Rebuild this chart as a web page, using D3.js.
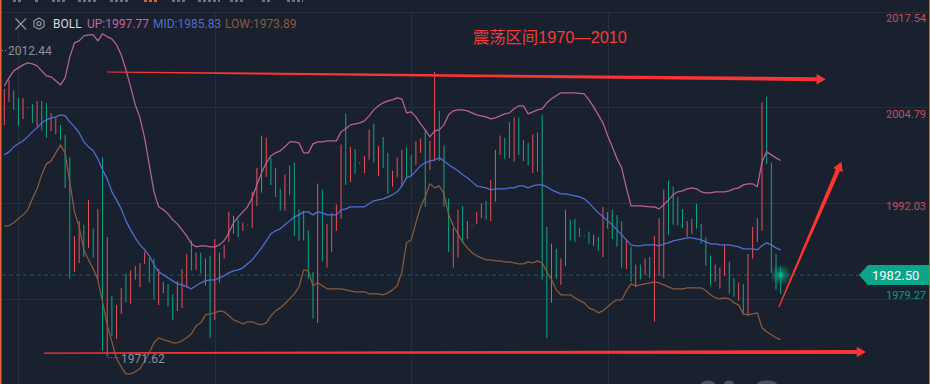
<!DOCTYPE html>
<html><head><meta charset="utf-8">
<script src="https://cdn.jsdelivr.net/npm/d3@7"></script>
<style>html,body{margin:0;padding:0;background:#1a212e;overflow:hidden}svg{display:block}</style>
</head><body><div id="chart"></div>
<script>
const barHighs = [2007.3,2008.5,2007.1,2006.1,2006.1,2004.9,2005.3,2005.7,2005.7,2005.4,
2004.1,2003.6,2002.5,2001.2,1998.2,1987.7,1989.7,1989.2,1992.5,1988.7,
1991.3,1998.2,1987.6,1979.7,1978.5,1980.8,1982.7,1983.1,1983.7,1984.1,
1985.6,1984.8,1984.7,1983.3,1981.6,1981.3,1979.9,1981.7,1983.3,1985.3,
1987.1,1985.5,1985.5,1984.7,1985.1,1987.3,1985.5,1986.5,1990.9,1990.4,
1989.9,1989.5,1989.2,1993.6,1996.8,2001.1,2000.8,1998.1,1996.8,1994.0,
1995.9,1997.1,1997.5,1991.2,1991.1,1988.5,1982.9,1994.7,1993.9,1989.3,
1990.8,1991.9,1999.9,2004.0,1999.6,1999.3,1997.5,1998.4,2001.9,2002.7,
1999.7,2000.9,1998.8,1996.4,1998.2,1999.2,1999.5,1998.5,2000.4,2000.7,
2001.9,2000.4,2009.6,2004.4,1999.7,1992.7,1988.8,1991.2,1991.7,1989.7,
1989.2,1990.9,1992.1,1992.4,1995.2,1999.2,2001.1,2000.8,2002.9,2003.5,
2003.5,2000.5,2000.1,2001.3,2001.5,2003.9,1988.9,1986.7,1986.0,1984.7,
1991.2,1989.9,1990.0,1988.8,1987.7,1988.3,1987.9,1987.6,1991.6,1990.9,
1991.2,1990.5,1989.7,1987.2,1986.3,1983.9,1983.9,1984.7,1984.9,1987.7,
1990.1,1993.9,1995.1,1994.3,1992.9,1991.3,1989.7,1990.0,1992.0,1989.3,
1987.6,1985.1,1983.9,1983.5,1986.5,1984.3,1982.1,1981.5,1981.3,1985.3,
1988.9,1990.1,2005.5,2006.3,1997.5,1985.3,1983.5];
const barLows = [2002.5,2005.6,2004.5,2002.4,2003.3,2004.8,2002.8,2002.3,2001.8,2000.8,
2001.7,2001.3,2000.5,1994.1,1982.0,1982.9,1984.1,1984.9,1986.1,1984.8,
1982.0,1972.4,1971.6,1974.4,1974.0,1977.3,1978.9,1978.7,1981.9,1980.9,
1984.0,1981.5,1979.2,1978.5,1980.1,1978.3,1976.5,1977.7,1978.1,1980.9,
1983.1,1983.2,1982.7,1981.1,1974.1,1976.5,1981.5,1984.7,1986.9,1988.0,
1987.6,1988.4,1989.1,1988.8,1991.7,1993.5,1995.6,1994.5,1992.9,1991.1,
1991.1,1993.2,1987.7,1987.1,1987.1,1982.0,1976.7,1976.1,1984.3,1983.5,
1985.6,1988.4,1990.0,1994.5,1994.9,1996.0,1997.3,1996.1,1997.9,1997.5,
1995.7,1996.8,1993.3,1994.3,1995.5,1994.3,1995.5,1995.7,1997.2,1998.8,
1991.6,1996.5,1997.7,1997.7,1991.6,1985.6,1983.5,1984.8,1986.8,1987.3,
1989.1,1989.3,1990.1,1989.9,1989.7,1992.3,1998.5,1998.0,1998.1,1997.6,
1998.5,1997.7,1997.1,1996.1,1996.3,1981.9,1974.1,1978.8,1982.0,1981.2,
1983.7,1987.1,1986.9,1987.6,1987.6,1986.7,1986.4,1985.7,1984.9,1988.7,
1987.3,1986.3,1983.5,1983.3,1981.6,1980.9,1981.9,1982.5,1982.1,1976.3,
1982.4,1982.1,1987.9,1989.2,1989.1,1988.8,1987.6,1988.0,1988.7,1986.7,
1983.7,1981.1,1981.6,1980.7,1982.5,1980.0,1979.6,1979.1,1977.2,1977.1,
1984.7,1986.9,1988.4,1997.3,1982.8,1980.5,1980.0];
const barDirections = ("rrttrttrtt"+"rrtttrrtrt"+"rtrtrrtrrr"+"rttrrttrrr"+"trtrtrrrrr"+"trrrrrrttt"+"rttttttrtr"+"rrrtrttrrt"+"rttrrrttrr"+"trrtttrrtr"+"rrrtrrrttr"+"tttrtttrtr"+"rtttttrtrr"+"tttrtrtrtr"+"rrttttrrtt"+"ttrrrttrtr"+"rrrtttt").split("");
const upperBand = [2007.73,2008.8,2009.73,2010.13,2010.53,2010.8,2010.67,2010.4,2009.73,2009.07,
2008.93,2008.4,2007.87,2008.8,2011.6,2013.47,2013.73,2014.4,2014.53,2014.53,
2013.73,2014.67,2014.27,2014.0,2013.2,2011.87,2009.87,2007.6,2005.2,2003.47,
2000.8,1997.2,1993.6,1991.6,1991.2,1990.67,1989.87,1989.33,1988.53,1987.73,
1986.67,1986.27,1986.4,1986.4,1986.27,1986.27,1986.53,1987.07,1988.13,1989.47,
1990.27,1990.93,1991.6,1992.8,1994.53,1996.13,1997.47,1998.4,1998.8,1999.07,
1999.6,2000.27,2000.27,2000.13,1998.8,1998.8,2000.0,2000.27,2000.27,2000.4,
2000.4,2000.4,2001.6,2002.0,2002.53,2002.67,2002.8,2003.07,2003.73,2004.53,
2005.07,2005.47,2005.73,2005.87,2006.13,2006.0,2004.13,2004.27,2003.6,2002.67,
2001.87,2000.93,2001.73,2001.87,2002.53,2003.87,2004.4,2004.53,2004.53,2004.4,
2004.13,2003.87,2003.73,2003.6,2003.33,2003.47,2003.73,2004.0,2004.13,2004.67,
2005.07,2005.07,2004.0,2004.27,2004.53,2004.67,2005.47,2006.0,2006.4,2006.8,
2006.8,2006.8,2006.8,2006.73,2006.67,2005.87,2004.93,2003.87,2002.8,2001.07,
1999.6,1998.0,1996.8,1994.13,1991.73,1991.73,1991.73,1991.67,1991.6,1991.6,
1991.33,1991.87,1992.53,1993.2,1993.6,1993.73,1994.0,1994.13,1994.0,1993.6,
1993.47,1993.47,1993.6,1993.6,1993.6,1993.73,1994.0,1994.13,1994.53,1994.67,
1994.67,1994.27,1997.6,1998.93,1998.53,1998.13,1997.77];
const midBand = [1998.53,1998.93,1999.6,2000.0,2000.4,2000.93,2001.6,2002.13,2002.8,2003.2,
2003.47,2003.6,2003.87,2003.73,2002.93,2002.27,2001.47,2000.27,1999.6,1999.07,
1998.0,1996.53,1995.33,1993.6,1992.53,1991.33,1989.73,1988.53,1987.47,1986.53,
1985.87,1985.07,1983.87,1982.93,1982.53,1982.13,1981.73,1981.33,1981.2,1980.93,
1980.67,1981.07,1981.47,1981.73,1981.87,1981.87,1982.13,1982.4,1982.8,1983.07,
1983.2,1983.47,1984.0,1984.53,1985.33,1986.13,1987.07,1988.0,1988.4,1988.67,
1989.2,1989.73,1990.27,1990.53,1990.93,1990.93,1990.53,1990.93,1990.8,1990.53,
1990.53,1990.53,1991.2,1991.33,1991.6,1991.6,1991.6,1991.6,1992.0,1992.4,
1992.53,1992.67,1992.93,1993.2,1993.6,1994.4,1995.47,1995.73,1996.4,1997.07,
1997.47,1997.73,1997.87,1998.13,1997.73,1997.2,1996.8,1996.4,1995.87,1995.47,
1994.93,1994.4,1994.27,1994.13,1993.87,1994.0,1994.0,1994.0,1994.13,1994.13,
1994.4,1994.4,1994.13,1994.4,1994.53,1994.53,1994.27,1993.87,1993.6,1993.33,
1993.33,1993.2,1993.07,1992.93,1992.67,1992.13,1991.47,1990.8,1990.27,1989.73,
1989.2,1988.53,1987.87,1987.2,1986.53,1986.4,1986.4,1986.53,1986.53,1986.53,
1986.4,1986.67,1986.8,1987.07,1987.2,1987.33,1987.47,1987.47,1987.33,1987.2,
1986.93,1986.67,1986.67,1986.53,1986.53,1986.53,1986.4,1986.27,1986.0,1986.0,
1986.0,1985.87,1986.4,1986.8,1986.53,1986.13,1985.83];
const lowerBand = [1989.07,1989.07,1989.47,1990.0,1990.53,1991.2,1992.67,1994.0,1995.87,1997.33,
1997.73,1998.8,1999.87,1998.8,1994.93,1990.93,1988.93,1985.87,1984.53,1983.33,
1981.87,1978.93,1975.87,1973.6,1971.33,1970.27,1969.33,1969.33,1969.6,1970.0,
1971.07,1972.13,1973.47,1974.13,1973.87,1973.73,1973.47,1973.47,1973.73,1974.13,
1974.67,1975.73,1976.13,1977.2,1977.33,1977.47,1977.73,1977.6,1977.07,1976.53,
1976.27,1976.0,1976.27,1976.27,1976.0,1975.87,1976.13,1977.07,1977.73,1978.13,
1978.67,1979.33,1980.0,1980.93,1983.2,1983.07,1981.07,1981.47,1981.07,1980.67,
1980.67,1980.67,1980.67,1980.53,1980.4,1980.27,1980.27,1980.27,1980.0,1980.0,
1980.0,1979.87,1980.13,1980.53,1981.07,1982.93,1986.8,1987.2,1989.47,1991.6,
1992.93,1994.67,1994.13,1994.4,1993.33,1990.53,1989.07,1988.0,1986.93,1986.13,
1985.47,1985.07,1984.8,1984.53,1984.53,1984.4,1984.4,1984.27,1984.27,1984.13,
1984.0,1984.0,1984.27,1984.13,1984.4,1984.13,1982.93,1981.87,1980.53,1979.87,
1979.87,1979.87,1979.47,1979.07,1978.8,1978.13,1977.87,1977.47,1977.73,1978.27,
1978.8,1979.2,1979.2,1980.4,1981.33,1981.07,1981.2,1981.33,1981.47,1981.6,
1981.47,1981.2,1980.93,1980.67,1980.67,1980.67,1980.8,1980.8,1980.8,1980.8,
1980.4,1979.87,1979.47,1979.33,1979.47,1979.33,1978.8,1978.53,1977.33,1977.2,
1977.33,1977.47,1975.47,1974.93,1974.53,1974.13,1973.89];
const priceTicks = [2017.54,2004.79,1992.03,1979.27];
const tickLabelShift = [5,6,2,-5];
const tickLabelColors = ["#c24e5a","#c24e5a","#c24e5a","#0f9a82"];
const gridBarIndexes = [3,45,87,129];
const lastPrice = 1982.50, periodHigh = 2012.44, periodLow = 1971.62;
const legendItems = [["BOLL","#d3d6db",53],["UP:1997.77","#c262a8",87],["MID:1985.83","#4f6bcf",153],["LOW:1973.89","#8d5a39",225]];
const title = "震荡区间1970—2010";
// hand-drawn arrows: [fromBar, fromPrice, toBar, toPrice, startWidth, endWidth]
const arrows = [[21.95,2009.58,175.6,2008.6,1.2,4],[8.5,1972.1,184.2,1972.25,1.2,4],[165.6,1978.25,179,1997.6,1.2,4.4]];

const W=930,H=384,RED="#e9505a",TEAL="#0aa98c",ARROW="#fb3434";
const x=d3.scaleLinear().domain([0,166]).range([4.33,780.7]);
const y=d3.scaleLinear().domain([2017.54,1979.27]).range([12.3,299.3]);
const svg=d3.select("#chart").append("svg").attr("width",W).attr("height",H).attr("viewBox",`0 0 ${W} ${H}`);
svg.append("rect").attr("width",W).attr("height",H).attr("fill","#1a212e");

const defs=svg.append("defs");
const glow=defs.append("radialGradient").attr("id","glow");
glow.append("stop").attr("offset","0%").attr("stop-color",TEAL).attr("stop-opacity",.9);
glow.append("stop").attr("offset","45%").attr("stop-color",TEAL).attr("stop-opacity",.45);
glow.append("stop").attr("offset","100%").attr("stop-color",TEAL).attr("stop-opacity",0);

// grid
const gridG=svg.append("g").attr("stroke","#252e3b").attr("stroke-width",1).attr("shape-rendering","crispEdges");
gridG.selectAll(".h").data(priceTicks).join("line").attr("x1",2).attr("x2",928).attr("y1",d=>Math.floor(y(d))+.5).attr("y2",d=>Math.floor(y(d))+.5);
gridG.selectAll(".v").data(gridBarIndexes).join("line").attr("x1",d=>Math.round(x(d))+.5).attr("x2",d=>Math.round(x(d))+.5).attr("y1",12).attr("y2",H);

// edges and toolbar stubs
svg.append("rect").attr("x",0).attr("y",0).attr("width",1.5).attr("height",H).attr("fill","#e8643c");
svg.append("rect").attr("x",929).attr("y",0).attr("width",1).attr("height",H).attr("fill","#c8603f");
const stubs=[[13,23,"#6d7480"],[35,38,"#6d7480"],[52,65,"#6d7480"],[78,97,"#6d7480"],[110,130,"#6d7480"],[144,158,"#d8623c"],[172,187,"#6d7480"],[198,220,"#6d7480"],[230,243,"#6d7480"],[262,270,"#6d7480"],[287,303,"#6d7480"]];
svg.selectAll(".stub").data(stubs).join("line").attr("x1",d=>d[0]).attr("x2",d=>d[1]).attr("y1",1).attr("y2",1).attr("stroke",d=>d[2]).attr("stroke-width",2).attr("stroke-dasharray","3 2");
svg.selectAll(".blob").data([708,729,767]).join("ellipse").attr("cx",d=>d).attr("cy",384).attr("rx",(d,i)=>[7,5,10][i]).attr("ry",3.5).attr("fill","#4b515c");

// last price dashed line
svg.append("line").attr("x1",2).attr("x2",859).attr("y1",y(lastPrice)).attr("y2",y(lastPrice)).attr("stroke","#1f5a56").attr("stroke-width",1).attr("stroke-dasharray","4 3");

// bars
const bars=barHighs.map((h,i)=>({i,h,l:barLows[i],d:barDirections[i]}));
svg.append("g").selectAll("line").data(bars).join("line")
 .attr("x1",d=>x(d.i)).attr("x2",d=>x(d.i)).attr("y1",d=>y(d.h)).attr("y2",d=>y(d.l))
 .attr("stroke",d=>d.d==="r"?RED:TEAL).attr("stroke-width",1);

// bands
const line=d3.line().x((d,i)=>x(i)).y(d=>y(d));
[[upperBand,"#b9619f"],[midBand,"#4f6fd6"],[lowerBand,"#8a5a3a"]].forEach(([s,c])=>{
  svg.append("path").attr("d",line(s)).attr("fill","none").attr("stroke",c).attr("stroke-width",1.25).attr("stroke-linejoin","round");
});

// high/low labels
const gray="#8c929c", font="Roboto, 'Liberation Sans', sans-serif";
svg.append("line").attr("x1",2).attr("x2",7).attr("y1",y(periodHigh)).attr("y2",y(periodHigh)).attr("stroke",gray).attr("stroke-dasharray","1 2");
svg.append("text").attr("x",8).attr("y",y(periodHigh)+4.5).text(periodHigh.toFixed(2)).attr("fill",gray).attr("font-size",12).attr("font-family",font);
svg.append("line").attr("x1",x(22)+1).attr("x2",119).attr("y1",y(periodLow)+1).attr("y2",y(periodLow)+1).attr("stroke",gray).attr("stroke-dasharray","1 2");
svg.append("text").attr("x",121).attr("y",y(periodLow)+6).text(periodLow.toFixed(2)).attr("fill",gray).attr("font-size",12).attr("font-family",font);

// right axis
const axis=d3.axisRight(y).tickValues(priceTicks).tickSize(0).tickFormat(d3.format(".2f"));
const ag=svg.append("g").attr("transform","translate(926,0)").call(axis);
ag.select(".domain").remove();
ag.selectAll("text").attr("x",0).attr("text-anchor","end").attr("font-size",11).attr("font-family",font)
 .attr("dy",(d,i)=>tickLabelShift[i]+4).attr("fill",(d,i)=>tickLabelColors[i]);

// legend
const closeG=svg.append("g").attr("stroke","#8f949c").attr("stroke-width",1.2).attr("fill","none");
closeG.append("path").attr("d","M15.5 18.5L26 29.5M26 18.5L15.5 29.5");
closeG.append("path").attr("d","M39 18L44 20.8V26.4L39 29.2L34 26.4V20.8Z");
closeG.append("circle").attr("cx",39).attr("cy",23.6).attr("r",2);
svg.selectAll(".lg").data(legendItems).join("text").attr("x",d=>d[2]).attr("y",28).text(d=>d[0]).attr("fill",d=>d[1]).attr("font-size",12).attr("font-family",font);

// glow + tag
svg.append("circle").attr("cx",x(166)).attr("cy",y(lastPrice)).attr("r",11).attr("fill","url(#glow)");
svg.append("circle").attr("cx",x(166)).attr("cy",y(lastPrice)).attr("r",2.5).attr("fill",TEAL);
const ty=y(lastPrice);
svg.append("path").attr("d",`M859 ${ty}L868 ${ty-10}H929V${ty+10}H868Z`).attr("fill","#0aa58a");
svg.append("text").attr("x",872).attr("y",ty+5).text(lastPrice.toFixed(2)).attr("fill","#fff").attr("font-size",13).attr("font-family",font);

// annotations
svg.append("text").attr("x",473).attr("y",43).text(title).attr("fill","#f23a3a").attr("font-size",16.3)
 .attr("font-family","'Liberation Sans','Noto Sans CJK SC',sans-serif");
arrows.forEach(([a,b,c,e,w0,w1])=>{
  const x0=x(a),y0=y(b),x1=x(c),y1=y(e),dx=x1-x0,dy=y1-y0,L=Math.hypot(dx,dy),ux=dx/L,uy=dy/L,nx=-uy,ny=ux,hl=9,hw=5.2;
  const bx=x1-ux*hl,by=y1-uy*hl;
  const p=[[x0+nx*w0/2,y0+ny*w0/2],[bx+nx*w1/2,by+ny*w1/2],[bx+nx*hw,by+ny*hw],[x1,y1],[bx-nx*hw,by-ny*hw],[bx-nx*w1/2,by-ny*w1/2],[x0-nx*w0/2,y0-ny*w0/2]];
  svg.append("path").attr("d","M"+p.map(q=>q.join(",")).join("L")+"Z").attr("fill",ARROW);
});
</script></body></html>
